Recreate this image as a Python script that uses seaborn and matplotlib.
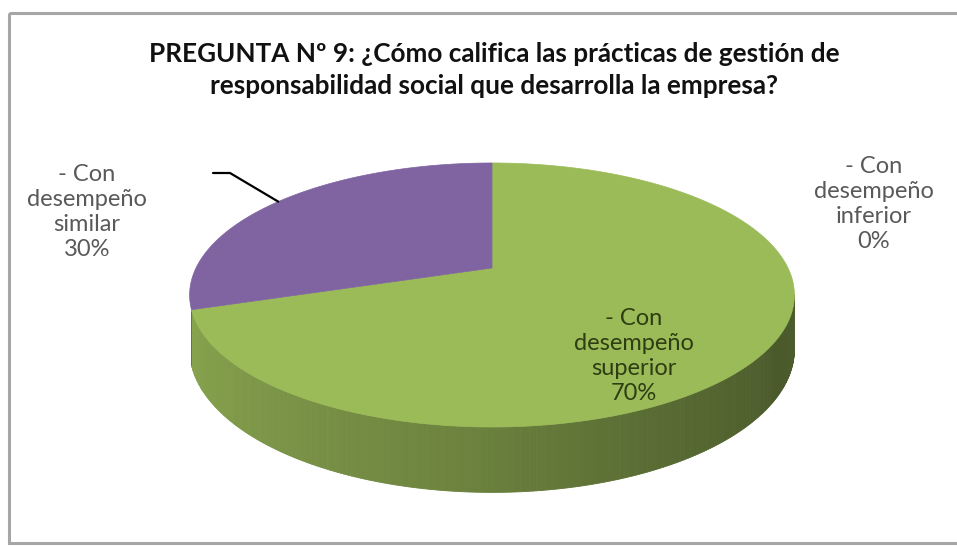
import numpy as np
import matplotlib
matplotlib.use("Agg")
import matplotlib.pyplot as plt
import seaborn as sns
from matplotlib.colors import to_rgb
from matplotlib.patches import Polygon, Rectangle

# ---------------- data ----------------
categories = ["- Con\ndesempeño\nsuperior", "- Con\ndesempeño\nsimilar", "- Con\ndesempeño\ninferior"]
values = [70, 30, 0]
pct_labels = ["70%", "30%", "0%"]
title = ("PREGUNTA Nº 9: ¿Cómo califica las prácticas de gestión de\n"
         "responsabilidad social que desarrolla la empresa?")

# ---------------- style ----------------
top_colors = ["#9BBB59", "#8064A2", "#4F81BD"]
label_colors = ["#2E3D12", "#595959", "#595959"]

sns.set_theme(style="white")
plt.rcParams['font.family'] = ['Lato', 'DejaVu Sans']

W, H = 957, 546
fig = plt.figure(figsize=(W / 100, H / 100), dpi=100)
ax = fig.add_axes([0, 0, 1, 1])
ax.set_xlim(0, W)
ax.set_ylim(H, 0)
ax.axis('off')

# chart frame
ax.add_patch(Rectangle((9, 13), W, H - 16, fill=False, edgecolor="#A6A6A6", lw=2.2, zorder=0))

# 3D pie geometry (perspective projection)
CX, CY = 492, 268
A, B, P, D = 296, 126.5, 0.2045, 52


def proj(theta_deg, r=1.0, depth=0.0):
    t = np.radians(theta_deg)
    u = r * np.cos(t)
    v = -r * np.sin(t)
    s = 1.0 / (1.0 - P * v)
    return CX + A * u * s, CY + B * v * s + depth * s


# visible side wall range
vis_lo, vis_hi = 198.0, 360.0 - np.degrees(np.arcsin(P))

shade_ang = [180, 198, 230, 265, 295, 330, 360]
shade_fac = [0.92, 0.88, 0.80, 0.70, 0.58, 0.48, 0.50]

total = float(sum(values))
starts, ends = [], []
cum = 0.0
for v in values:
    a0 = 90 - cum / total * 360
    cum += v
    a1 = 90 - cum / total * 360
    starts.append(a0)
    ends.append(a1)

# side walls (front half only)
for i, v in enumerate(values):
    if v <= 0:
        continue
    lo, hi = ends[i], starts[i]
    shift = np.floor(lo / 360) * 360
    lo_n, hi_n = lo - shift, hi - shift
    for off in (0, 360):
        a = max(lo_n - off, vis_lo)
        b = min(hi_n - off, vis_hi)
        if b <= a:
            continue
        edges = np.linspace(a, b, int(np.ceil((b - a) / 0.5)) + 1)
        base = np.array(to_rgb(top_colors[i]))
        for e0, e1 in zip(edges[:-1], edges[1:]):
            mid = 0.5 * (e0 + e1)
            f = np.interp(mid, shade_ang, shade_fac)
            col = np.clip(base * f, 0, 1)
            p0 = proj(e0); p1 = proj(e1)
            q1 = proj(e1, depth=D); q0 = proj(e0, depth=D)
            ax.add_patch(Polygon([p0, p1, q1, q0], closed=True, facecolor=col,
                                 edgecolor=col, lw=0.6, zorder=2))

# top faces
for i, v in enumerate(values):
    if v <= 0:
        continue
    th = np.linspace(starts[i], ends[i], 240)
    pts = [proj(0, r=0.0)] + [proj(t) for t in th]
    ax.add_patch(Polygon(pts, closed=True, facecolor=top_colors[i],
                         edgecolor=top_colors[i], lw=0.5, zorder=3))

# labels
fs = 17
ax.text(634, 356, categories[0] + "\n" + pct_labels[0], ha="center", va="center",
        fontsize=fs, color=label_colors[0], linespacing=1.22, zorder=5)
ax.text(87, 212, categories[1] + "\n" + pct_labels[1], ha="center", va="center",
        fontsize=fs, color=label_colors[1], linespacing=1.22, zorder=5)
ax.text(874, 204, categories[2] + "\n" + pct_labels[2], ha="center", va="center",
        fontsize=fs, color=label_colors[2], linespacing=1.22, zorder=5)

# leader line for the "similar" slice
mid_ang = 0.5 * (starts[1] + ends[1])
ex, ey = proj(mid_ang)
ax.plot([213, 230, ex], [173, 173, ey], color="black", lw=1.6, zorder=6,
        solid_capstyle="round")

# title
ax.text(494, 70, title, ha="center", va="center", fontsize=18.8, fontweight="bold",
        color="#111111", linespacing=1.4, zorder=5)

fig.savefig("out.png", dpi=100)
